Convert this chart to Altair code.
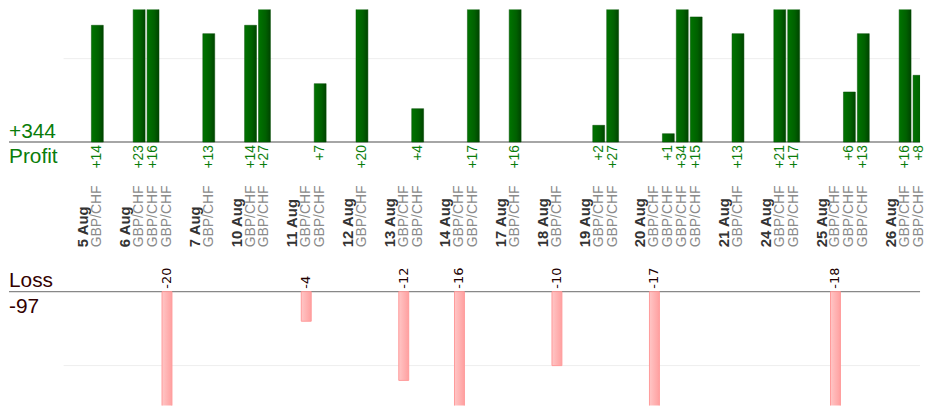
import altair as alt
import pandas as pd

# ---- data ----
dates = ["5 Aug", "6 Aug", "7 Aug", "10 Aug", "11 Aug", "12 Aug", "13 Aug", "14 Aug",
         "17 Aug", "18 Aug", "19 Aug", "20 Aug", "21 Aug", "24 Aug", "25 Aug", "26 Aug"]
trades = [
    [14],
    [23, 16, -20],
    [13],
    [14, 27],
    [-4, 7],
    [20],
    [-12, 4],
    [-16, 17],
    [16],
    [-10],
    [2, 27],
    [-17, 1, 34, 15],
    [13],
    [21, 17],
    [-18, 6, 13],
    [16, 8],
]
pair = "GBP/CHF"

# ---- build tables (one slot per date label, one per trade, one gap) ----
date_rows, trade_rows = [], []
slot = 0
for d, vals in zip(dates, trades):
    date_rows.append({"slot": slot, "date": d})
    slot += 1
    for v in vals:
        trade_rows.append({"slot": slot, "value": v, "pair": pair,
                           "label": f"+{v}" if v > 0 else str(v)})
        slot += 1
    slot += 1

dates_df = pd.DataFrame(date_rows)
trades_df = pd.DataFrame(trade_rows)
profit_df = trades_df[trades_df.value > 0].reset_index(drop=True)
loss_df = trades_df[trades_df.value < 0].reset_index(drop=True)
total_profit = int(profit_df.value.sum())
total_loss = int(loss_df.value.sum())
p_sum = pd.DataFrame({"total": [f"+{total_profit}"], "name": ["Profit"], "zero": [0], "grid": [10]})
l_sum = pd.DataFrame({"total": [f"{total_loss}"], "name": ["Loss"], "zero": [0], "grid": [-10]})

W = 918
HT, HB = 242, 157
FONT = "Liberation Sans"
GREEN_TXT = "#0a7d0a"
LOSS_TXT = "#330000"

SLOT_PX = 14.033          # pixel pitch of one slot
X0_PX = 75.0              # pixel position of slot 0 inside the plot
x_lo = -X0_PX / SLOT_PX
x_hi = x_lo + W / SLOT_PX
xs = alt.Scale(domain=[x_lo, x_hi], nice=False, zero=False, padding=0)
X = alt.X("slot:Q", scale=xs, axis=None)
yp = alt.Scale(domain=[-(HT - 133.5) / 8.4, 133.5 / 8.4], nice=False, zero=False, padding=0)
yl = alt.Scale(domain=[-(HB - 42.3) / 7.45, 42.3 / 7.45], nice=False, zero=False, padding=0)

YP0 = alt.Y("zero:Q", scale=yp, axis=None)
YL0 = alt.Y("zero:Q", scale=yl, axis=None)

green_grad = alt.LinearGradient(
    gradient="linear", x1=0, x2=1, y1=0, y2=0,
    stops=[alt.GradientStop(offset=0, color="#007400"),
           alt.GradientStop(offset=0.6, color="#006000"),
           alt.GradientStop(offset=1, color="#004400")])
pink_grad = alt.LinearGradient(
    gradient="linear", x1=0, x2=1, y1=0, y2=0,
    stops=[alt.GradientStop(offset=0, color="#ffc6c6"),
           alt.GradientStop(offset=1, color="#ffa0a0")])

# ---------------- profit panel ----------------
p_grid = alt.Chart(p_sum).mark_rule(color="#eeeeee", strokeWidth=1).encode(
    x=alt.value(55), x2=alt.value(W), y=alt.Y("grid:Q", scale=yp, axis=None))
p_base = alt.Chart(p_sum).mark_rule(color="#888888", strokeWidth=1.3).encode(
    x=alt.value(0), x2=alt.value(W), y=YP0)
p_bars = alt.Chart(profit_df).mark_bar(
    size=12, clip=True, fill=green_grad, stroke="#004a00", strokeWidth=0.5
).encode(x=X, y=alt.Y("value:Q", scale=yp, axis=None))
p_labels = alt.Chart(profit_df).transform_calculate(zero="0").mark_text(
    angle=270, align="right", baseline="middle", dx=-3,
    font=FONT, fontSize=14, color=GREEN_TXT
).encode(x=X, y=YP0, text="label:N")
d_labels = alt.Chart(dates_df).transform_calculate(zero="0").mark_text(
    angle=270, align="left", baseline="middle", dx=-106,
    font=FONT, fontSize=15, fontWeight="bold", color="#333333"
).encode(x=X, y=YP0, text="date:N")
pair_labels = alt.Chart(trades_df).transform_calculate(zero="0").mark_text(
    angle=270, align="left", baseline="middle", dx=-106,
    font=FONT, fontSize=14, color="#8a8a8a"
).encode(x=X, y=YP0, text="pair:N")
p_total = alt.Chart(p_sum).mark_text(
    align="left", baseline="alphabetic", dy=-4,
    font=FONT, fontSize=21, color=GREEN_TXT
).encode(x=alt.value(0), y=YP0, text="total:N")
p_name = alt.Chart(p_sum).mark_text(
    align="left", baseline="alphabetic", dy=21,
    font=FONT, fontSize=21, color=GREEN_TXT
).encode(x=alt.value(0), y=YP0, text="name:N")

top = alt.layer(p_grid, p_base, p_bars, p_labels, d_labels, pair_labels,
                p_total, p_name).properties(width=W, height=HT)

# ---------------- loss panel ----------------
l_grid = alt.Chart(l_sum).mark_rule(color="#eeeeee", strokeWidth=1).encode(
    x=alt.value(55), x2=alt.value(W), y=alt.Y("grid:Q", scale=yl, axis=None))
l_base = alt.Chart(l_sum).mark_rule(color="#888888", strokeWidth=1.3).encode(
    x=alt.value(0), x2=alt.value(W), y=YL0)
l_bars = alt.Chart(loss_df).mark_bar(
    size=10, clip=True, fill=pink_grad, stroke="#ff9a9a", strokeWidth=1
).encode(x=X, y=alt.Y("value:Q", scale=yl, axis=None))
l_labels = alt.Chart(loss_df).transform_calculate(zero="0").mark_text(
    angle=270, align="left", baseline="middle", dx=3,
    font="DejaVu Sans", fontSize=13, color="#220000"
).encode(x=X, y=YL0, text="label:N")
l_name = alt.Chart(l_sum).mark_text(
    align="left", baseline="alphabetic", dy=-5,
    font=FONT, fontSize=21, color=LOSS_TXT
).encode(x=alt.value(0), y=YL0, text="name:N")
l_total = alt.Chart(l_sum).mark_text(
    align="left", baseline="alphabetic", dy=22,
    font=FONT, fontSize=21, color=LOSS_TXT
).encode(x=alt.value(0), y=YL0, text="total:N")

bottom = alt.layer(l_grid, l_base, l_bars, l_labels, l_name, l_total).properties(
    width=W, height=HB)

chart = alt.vconcat(top, bottom, spacing=0).properties(
    padding=0, background="white",
).configure_view(strokeWidth=0)

chart.save("out.html", embed_options={"renderer": "svg", "actions": False})
